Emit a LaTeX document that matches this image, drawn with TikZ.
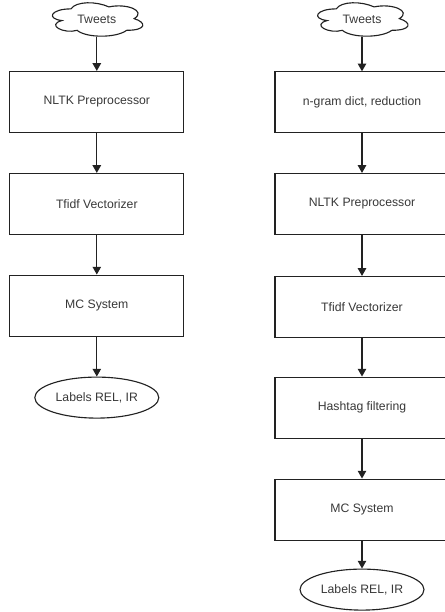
\documentclass[tikz,border=0pt]{standalone}
\usepackage{fontspec}
\setmainfont{Liberation Sans}
\usetikzlibrary{shapes.geometric,arrows.meta}
\definecolor{ink}{RGB}{34,34,34}
\tikzset{every path/.style={line width=0.8pt}}
\tikzset{
  every node/.style={font=\fontsize{8.7}{10}\selectfont,text=ink!90},
  stage/.style={draw=ink,rectangle,minimum width=4.35cm,minimum height=1.525cm,inner sep=0pt},
  source/.style={rectangle,minimum width=2.25cm,minimum height=0.83cm,inner sep=0pt},
  result/.style={draw=ink,ellipse,minimum width=3.1cm,minimum height=1.025cm,inner sep=0pt},
  flow/.style={draw=ink,-{Triangle[length=5.5pt,width=6pt]}},
  % cloud outline around a source node
  tweetcloud/.pic={
    \draw[ink] (-0.644,0.268)
      .. controls (-1.149,0.268) and (-1.275,0.024) .. (-0.871,-0.024)
      .. controls (-1.275,-0.132) and (-0.821,-0.366) .. (-0.492,-0.268)
      .. controls (-0.265,-0.463) and (0.492,-0.463) .. (0.745,-0.268)
      .. controls (1.250,-0.268) and (1.250,-0.073) .. (0.934,0.024)
      .. controls (1.250,0.219) and (0.745,0.414) .. (0.303,0.317)
      .. controls (-0.013,0.463) and (-0.518,0.463) .. (-0.644,0.268) -- cycle;
  }
}

\begin{document}
\begin{tikzpicture}
\useasboundingbox (0,0) rectangle (11.1,-15.3);
% plain pipeline
\node[source] (tweetsA) at (2.42,-0.49) {Tweets};
\pic at (tweetsA) {tweetcloud};
\node[stage] (nltkA) at (2.42,-2.55) {NLTK Preprocessor};
\node[stage] (tfidfA) at (2.42,-5.1) {Tfidf Vectorizer};
\node[stage] (mcA) at (2.42,-7.64) {MC System};
\node[result] (labelsA) at (2.42,-9.94) {Labels REL, IR};
\draw[flow] (tweetsA) -- (nltkA);
\draw[flow] (nltkA) -- (tfidfA);
\draw[flow] (tfidfA) -- (mcA);
\draw[flow] (mcA) -- (labelsA);
% pipeline with n-grams and hashtags
\node[source] (tweetsB) at (9.05,-0.49) {Tweets};
\pic at (tweetsB) {tweetcloud};
\node[stage] (ngramB) at (9.05,-2.56) {n-gram dict, reduction};
\node[stage] (nltkB) at (9.05,-5.1) {NLTK Preprocessor};
\node[stage] (tfidfB) at (9.05,-7.675) {Tfidf Vectorizer};
\node[stage] (hashB) at (9.05,-10.19) {Hashtag filtering};
\node[stage] (mcB) at (9.05,-12.74) {MC System};
\node[result] (labelsB) at (9.05,-14.74) {Labels REL, IR};
\draw[flow] (tweetsB) -- (ngramB);
\draw[flow] (ngramB) -- (nltkB);
\draw[flow] (nltkB) -- (tfidfB);
\draw[flow] (tfidfB) -- (hashB);
\draw[flow] (hashB) -- (mcB);
\draw[flow] (mcB) -- (labelsB);
\end{tikzpicture}
\end{document}
